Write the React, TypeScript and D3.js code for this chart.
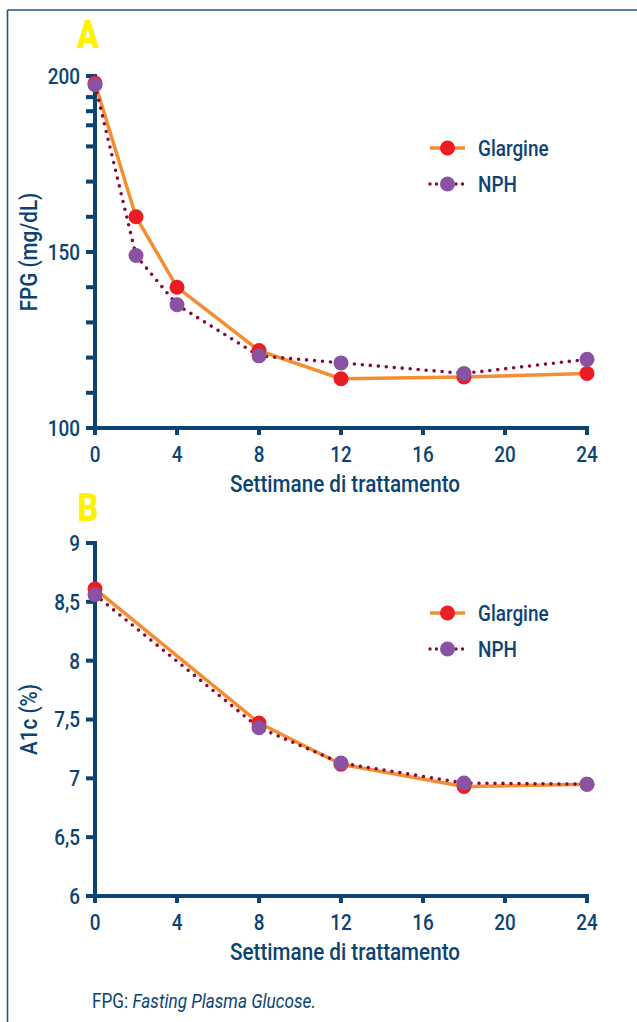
import React from "react";
import * as d3 from "d3";

// Weeks of treatment
const weeksA = [0, 2, 4, 8, 12, 18, 24];
const weeksB = [0, 8, 12, 18, 24];

// Panel A: FPG (mg/dL)
const fpgGlargine = [198, 160, 140, 122, 114, 114.5, 115.5];
const fpgNPH = [197.5, 149, 135, 120.5, 118.5, 115.5, 119.5];

// Panel B: A1c (%)
const a1cGlargine = [8.61, 7.47, 7.12, 6.93, 6.95];
const a1cNPH = [8.56, 7.43, 7.13, 6.96, 6.95];

const xTicks = [0, 4, 8, 12, 16, 20, 24];
const fpgTickValues = [100, 110, 120, 130, 140, 150, 160, 170, 180, 186, 190, 194, 200];
const fpgTickLabels = [100, 150, 200];
const a1cTickValues = [6, 6.5, 7, 7.5, 8, 8.5, 9];

const NAVY = "#0b4373";
const ORANGE = "#f58d33";
const RED = "#ec1c24";
const PURPLE = "#8a52a2";
const MAROON = "#870a3c";
const YELLOW = "#fff200";
const FONT = "Roboto, 'Liberation Sans', sans-serif";
const SQUEEZE = 0.86;

type TProps = {
  x: number;
  y: number;
  size?: number;
  weight?: number;
  anchor?: "start" | "middle" | "end";
  rotate?: number;
  fill?: string;
  dy?: string;
  squeeze?: number;
  children: React.ReactNode;
};

// Condensed text: a horizontally squeezed Roboto
function T({ x, y, size = 22, weight = 500, anchor = "start", rotate = 0, fill = NAVY, dy, squeeze = SQUEEZE, children }: TProps) {
  return (
    <text
      transform={`translate(${x},${y}) rotate(${rotate}) scale(${squeeze},1)`}
      textAnchor={anchor}
      dy={dy}
      fontFamily={FONT}
      fontSize={size}
      fontWeight={weight}
      fill={fill}
    >
      {children}
    </text>
  );
}

type PanelProps = {
  letter: string;
  letterY: number;
  top: number;
  bottom: number;
  domain: [number, number];
  ticks: number[];
  labelTicks: number[];
  fmt: (v: number) => string;
  yTitle: string;
  weeks: number[];
  glargine: number[];
  nph: number[];
  legendY: number;
};

const X0 = 95;
const X1 = 587;

function Panel(p: PanelProps) {
  const x = d3.scaleLinear().domain([0, 24]).range([X0, X1]);
  const y = d3.scaleLinear().domain(p.domain).range([p.bottom, p.top]);
  const line = d3
    .line<number>()
    .x((_, i) => x(p.weeks[i]))
    .y((v) => y(v));

  return (
    <g>
      <T x={88} y={p.letterY} anchor="middle" size={38} weight={900} fill={YELLOW} squeeze={0.85}>
        {p.letter}
      </T>

      {/* y axis */}
      <line x1={X0} x2={X0} y1={p.top - 2} y2={p.bottom + 2} stroke={NAVY} strokeWidth={4} />
      {p.ticks.map((t) => (
        <line key={"yt" + t} x1={X0 - 9} x2={X0} y1={y(t)} y2={y(t)} stroke={NAVY} strokeWidth={4} />
      ))}
      {p.labelTicks.map((t) => (
        <T key={"yl" + t} x={80} y={y(t)} dy="0.36em" anchor="end">
          {p.fmt(t)}
        </T>
      ))}
      <T x={37} y={(p.top + p.bottom) / 2} rotate={-90} anchor="middle" size={24}>
        {p.yTitle}
      </T>

      {/* x axis */}
      <line x1={X0 - 2} x2={X1 + 2} y1={p.bottom} y2={p.bottom} stroke={NAVY} strokeWidth={4} />
      {xTicks.map((t) => (
        <g key={"xt" + t}>
          <line x1={x(t)} x2={x(t)} y1={p.bottom} y2={p.bottom + 7} stroke={NAVY} strokeWidth={4} />
          <T x={x(t)} y={p.bottom + 34} anchor="middle">
            {t}
          </T>
        </g>
      ))}
      <T x={(X0 + X1) / 2 + 4} y={p.bottom + 64} anchor="middle" size={24}>
        Settimane di trattamento
      </T>

      {/* series */}
      <path d={line(p.glargine) ?? ""} fill="none" stroke={ORANGE} strokeWidth={3.5} strokeLinejoin="round" />
      <path
        d={line(p.nph) ?? ""}
        fill="none"
        stroke={MAROON}
        strokeWidth={3.6}
        strokeLinecap="round"
        strokeDasharray="0 8"
      />
      {p.glargine.map((v, i) => (
        <circle key={"g" + i} cx={x(p.weeks[i])} cy={y(v)} r={7.5} fill={RED} />
      ))}
      {p.nph.map((v, i) => (
        <circle key={"n" + i} cx={x(p.weeks[i])} cy={y(v)} r={7.5} fill={PURPLE} />
      ))}

      {/* legend */}
      <g transform={`translate(430,${p.legendY})`}>
        <line x1={0} x2={35} y1={0} y2={0} stroke={ORANGE} strokeWidth={3.5} />
        <circle cx={17.5} cy={0} r={7.5} fill={RED} />
        <T x={48} y={0} dy="0.36em">
          Glargine
        </T>
        <line
          x1={0}
          x2={37}
          y1={36}
          y2={36}
          stroke={MAROON}
          strokeWidth={3.4}
          strokeLinecap="round"
          strokeDasharray="0 6.5"
        />
        <circle cx={17.5} cy={36} r={7.5} fill={PURPLE} />
        <T x={48} y={36} dy="0.36em">
          NPH
        </T>
      </g>
    </g>
  );
}

export default function App() {
  const commaFmt = (v: number) => String(v).replace(".", ",");
  return (
    <svg
      width={637}
      height={1022}
      style={{ position: "absolute", left: 0, top: 0, background: "#fff" }}
    >
      {/* frame */}
      <line x1={7.5} x2={637} y1={10} y2={10} stroke="#1f5382" strokeWidth={1.6} />
      <line x1={7.5} x2={7.5} y1={10} y2={1022} stroke="#1f5382" strokeWidth={1.6} />

      <Panel
        letter="A"
        letterY={48}
        top={76}
        bottom={428}
        domain={[100, 200]}
        ticks={fpgTickValues}
        labelTicks={fpgTickLabels}
        fmt={(v) => String(v)}
        yTitle="FPG (mg/dL)"
        weeks={weeksA}
        glargine={fpgGlargine}
        nph={fpgNPH}
        legendY={148}
      />
      <Panel
        letter="B"
        letterY={521}
        top={543}
        bottom={896}
        domain={[6, 9]}
        ticks={a1cTickValues}
        labelTicks={a1cTickValues}
        fmt={commaFmt}
        yTitle="A1c (%)"
        weeks={weeksB}
        glargine={a1cGlargine}
        nph={a1cNPH}
        legendY={613}
      />

      <T x={92} y={1008} size={19.5} weight={400} squeeze={0.88}>
        FPG: <tspan fontStyle="italic">Fasting Plasma Glucose.</tspan>
      </T>
    </svg>
  );
}
